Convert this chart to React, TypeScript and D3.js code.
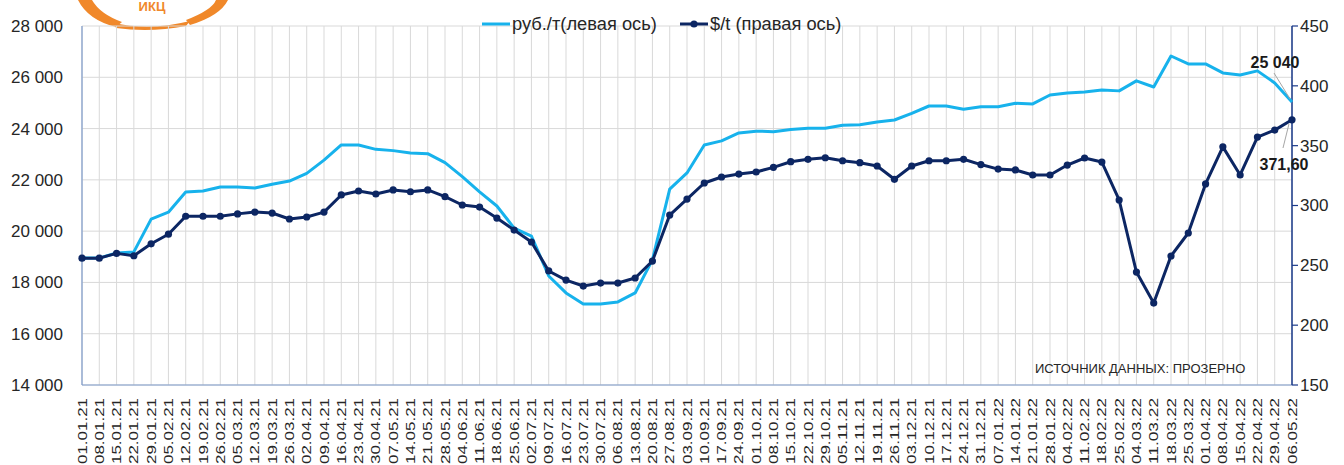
import React from "react";
import * as d3 from "d3";

// weekly dates, 01.01.21 .. 06.05.22
const dates = [
  "01.01.21", "08.01.21", "15.01.21", "22.01.21", "29.01.21", "05.02.21", "12.02.21", "19.02.21",
  "26.02.21", "05.03.21", "12.03.21", "19.03.21", "26.03.21", "02.04.21", "09.04.21", "16.04.21",
  "23.04.21", "30.04.21", "07.05.21", "14.05.21", "21.05.21", "28.05.21", "04.06.21", "11.06.21",
  "18.06.21", "25.06.21", "02.07.21", "09.07.21", "16.07.21", "23.07.21", "30.07.21", "06.08.21",
  "13.08.21", "20.08.21", "27.08.21", "03.09.21", "10.09.21", "17.09.21", "24.09.21", "01.10.21",
  "08.10.21", "15.10.21", "22.10.21", "29.10.21", "05.11.21", "12.11.21", "19.11.21", "26.11.21",
  "03.12.21", "10.12.21", "17.12.21", "24.12.21", "31.12.21", "07.01.22", "14.01.22", "21.01.22",
  "28.01.22", "04.02.22", "11.02.22", "18.02.22", "25.02.22", "04.03.22", "11.03.22", "18.03.22",
  "25.03.22", "01.04.22", "08.04.22", "15.04.22", "22.04.22", "29.04.22", "06.05.22",
];

// руб./т (left axis)
const rub = [
  18950, 18950, 19150, 19190, 20470, 20740, 21530, 21565,
  21720, 21720, 21680, 21830, 21955, 22255, 22770, 23360,
  23360, 23190, 23140, 23050, 23020, 22670, 22125, 21530,
  20980, 20120, 19810, 18250, 17590, 17160, 17160, 17240,
  17590, 18880, 21640, 22270, 23360, 23520, 23830, 23900,
  23880, 23960, 24010, 24010, 24130, 24150, 24255, 24335,
  24595, 24880, 24880, 24750, 24850, 24850, 24985, 24960,
  25310, 25390, 25430, 25500, 25470, 25860, 25620, 26830,
  26520, 26520, 26170, 26090, 26250, 25780, 25040,
];

// $/t (right axis)
const usd = [
  256, 256, 260, 258, 268, 276, 291, 291,
  291, 293, 294.5, 293.7, 288.7, 290.4, 294.5, 308.8,
  312.1, 309.6, 313, 311.5, 313, 307.4, 300.4, 298.7,
  289.5, 279.5, 269.5, 245.3, 237.7, 232.7, 235.2, 235.2,
  239.4, 253.6, 292, 305.4, 318.8, 323.8, 326.3, 328,
  331.9, 336.6, 338.6, 339.9, 337.4, 335.8, 333, 321.9,
  333, 337.4, 337.4, 338.6, 334.2, 330.4, 329.7, 325.5,
  325.5, 333.8, 339.7, 336.3, 304.6, 244.4, 218.5, 257.8,
  277, 318, 349, 325.5, 357.2, 363, 371.6,
];

const leftTicks = [14000, 16000, 18000, 20000, 22000, 24000, 26000, 28000];
const rightTicks = [150, 200, 250, 300, 350, 400, 450];

const W = 1344;
const H = 465;
const FONT = "'Liberation Sans', Arial, sans-serif";
const LIGHT = "#17b2ec";
const DARK = "#0c2663";
const ORANGE = "#f0882a";

export default function App() {
  const left = 82;
  const right = 1292;
  const top = 26;
  const bottom = 385;

  const x = d3.scalePoint<string>().domain(dates).range([left, right]);
  const yL = d3.scaleLinear().domain([14000, 28000]).range([bottom, top]);
  const yR = d3.scaleLinear().domain([150, 450]).range([bottom, top]);

  const rubLine = d3
    .line<number>()
    .x((d, i) => x(dates[i]) as number)
    .y((d) => yL(d));
  const usdLine = d3
    .line<number>()
    .x((d, i) => x(dates[i]) as number)
    .y((d) => yR(d));

  const fmt = (v: number) => d3.format(",")(v).replace(/,/g, " ");
  const last = dates.length - 1;
  const lx = x(dates[last]) as number;

  return (
    <svg
      width={W}
      height={H}
      style={{ position: "absolute", left: 0, top: 0, background: "#fff" }}
      fontFamily={FONT}
    >
      {/* logo fragment */}
      <g fill={ORANGE} stroke="none">
        <path d="M 78 0 L 92 0 Q 100 14 122 22 L 116 27 Q 88 20 78 0 Z" />
        <path d="M 114 23 Q 150 31 190 21 L 186 26 Q 150 33 116 28 Z" />
        <path d="M 186 20 Q 212 10 216 0 L 228 0 Q 220 16 190 25 Z" />
      </g>
      <text x={152} y={11} textAnchor="middle" fontSize={13} fontWeight="bold" fill={ORANGE}>
        ИКЦ
      </text>

      {/* vertical grid */}
      <g stroke="#d9d9d9" strokeWidth={1}>
        {dates.map((d) => (
          <line key={d} x1={x(d)} x2={x(d)} y1={top} y2={bottom} />
        ))}
      </g>
      {/* horizontal grid */}
      <g stroke="#d9d9d9" strokeWidth={1}>
        {leftTicks.map((t) => (
          <line key={t} x1={left} x2={right} y1={yL(t)} y2={yL(t)} />
        ))}
      </g>

      {/* axes lines */}
      <line x1={left} x2={left} y1={top} y2={bottom} stroke="#7f9ccc" strokeWidth={1.2} />
      <line x1={left} x2={right} y1={bottom} y2={bottom} stroke="#7f9ccc" strokeWidth={1.2} />
      <line x1={right} x2={right} y1={top} y2={bottom} stroke="#1a3a8a" strokeWidth={1.5} />

      {/* left axis labels */}
      {leftTicks.map((t) => (
        <text key={t} x={63} y={yL(t)} dy="0.35em" textAnchor="end" fontSize={17} fill="#262626">
          {fmt(t)}
        </text>
      ))}

      {/* right axis */}
      {rightTicks.map((t) => (
        <g key={t}>
          <line x1={right} x2={right + 6} y1={yR(t)} y2={yR(t)} stroke="#1a3a8a" strokeWidth={1.2} />
          <text x={1300} y={yR(t)} dy="0.35em" fontSize={17} fill="#262626">
            {t}
          </text>
        </g>
      ))}

      {/* x labels */}
      {dates.map((d) => (
        <text
          key={d}
          transform={`translate(${(x(d) as number) + 4.5},464) rotate(-90)`}
          fontSize={12.5}
          textLength={66}
          lengthAdjust="spacingAndGlyphs"
          fill="#262626"
        >
          {d}
        </text>
      ))}

      {/* series */}
      <path d={rubLine(rub) || ""} fill="none" stroke={LIGHT} strokeWidth={3} strokeLinejoin="round" />
      <path d={usdLine(usd) || ""} fill="none" stroke={DARK} strokeWidth={3} strokeLinejoin="round" />
      {usd.map((v, i) => (
        <circle key={i} cx={x(dates[i])} cy={yR(v)} r={3.6} fill={DARK} />
      ))}

      {/* data labels */}
      <line x1={1274} y1={73} x2={lx - 2} y2={yL(rub[last]) - 3} stroke="#a6a6a6" strokeWidth={1} />
      <text x={1275} y={62} dy="0.35em" textAnchor="middle" fontSize={16} fontWeight="bold" fill="#1a1a1a">
        {fmt(rub[last])}
      </text>
      <line x1={1283} y1={148} x2={lx - 3} y2={yR(usd[last]) + 4} stroke="#a6a6a6" strokeWidth={1} />
      <text x={1284} y={164} dy="0.35em" textAnchor="middle" fontSize={16} fontWeight="bold" fill="#1a1a1a">
        {usd[last].toFixed(2).replace(".", ",")}
      </text>

      {/* source */}
      <text x={1035} y={368} dy="0.35em" fontSize={13} fill="#262626">
        ИСТОЧНИК ДАННЫХ: ПРОЗЕРНО
      </text>

      {/* legend */}
      <line x1={482} x2={510} y1={24} y2={24} stroke={LIGHT} strokeWidth={3} />
      <text x={512} y={24} dy="0.35em" fontSize={18.3} fill="#262626">
        руб./т(левая ось)
      </text>
      <line x1={680} x2={708} y1={24} y2={24} stroke={DARK} strokeWidth={3} />
      <circle cx={694} cy={24} r={3.6} fill={DARK} />
      <text x={710} y={24} dy="0.35em" fontSize={18.3} fill="#262626">
        $/t (правая ось)
      </text>
    </svg>
  );
}
